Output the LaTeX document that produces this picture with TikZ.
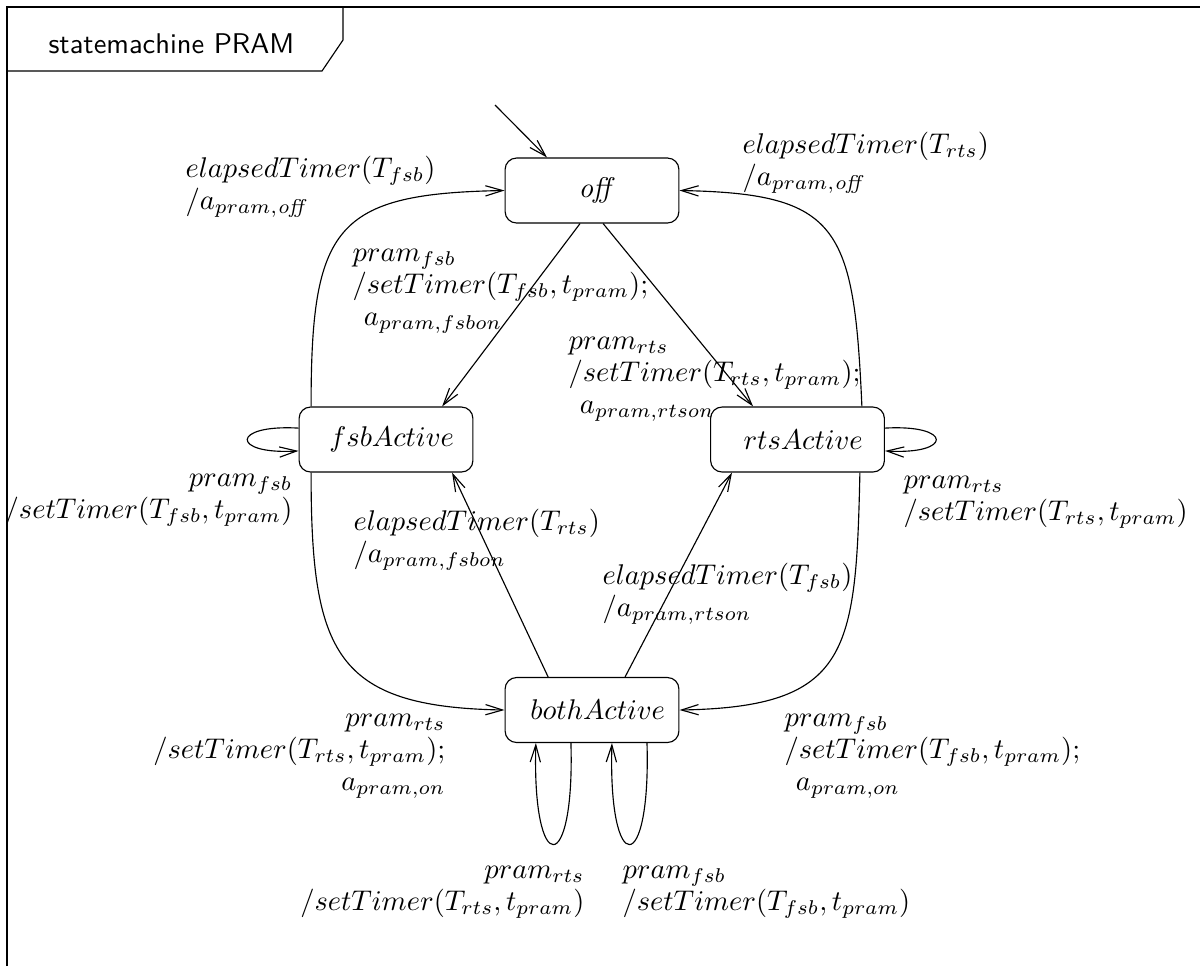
\documentclass[tikz,border=0pt]{standalone}
\usepackage{xcolor}
\usepackage{tikz}
\usetikzlibrary{arrows.meta}

\begin{document}
\begin{tikzpicture}[x=0.351pt, y=-0.351pt,
    >={Straight Barb[length=6pt,width=3.6pt]},
    state/.style={draw, rounded corners=4pt, minimum width=61pt, minimum height=22.8pt, inner sep=0pt,
      execute at begin node={\hspace*{4pt}}},
    trans/.style={->},
    lbl/.style={inner sep=0pt, align=left, anchor=base west, font=\fontsize{10pt}{11.2pt}\selectfont},
    lblr/.style={lbl, align=right, anchor=base east}]
         \useasboundingbox (0,0) rectangle (1200,966);
         \draw (7,966) to (7,7) to (1200,7);
         \draw (7,71) to (322,71) to (343,40) to (343,7);
         \node[anchor=base west, inner sep=0pt] (Title) at (48,53) {\sffamily statemachine PRAM};
         \node[state] (Off) at (592,190.5) {$\mathit{off}$};
         \node[state] (Fsb) at (386,439.5) {$fsbActive$};
         \node[state] (Rts) at (797.5,439.5) {$rtsActive$};
         \node[state] (Both) at (592,710) {$bothActive$};
         \coordinate (Init) at (495,105);
         \draw[trans] (Init) to ([xshift=-15.8pt]Off.north);
         \draw[trans] ([xshift=-4.2pt]Off.south) to ([xshift=19.7pt]Fsb.north);
         \draw[trans] ([xshift=3.9pt]Off.south) to ([xshift=-15.6pt]Rts.north);
         \draw[trans] ([xshift=-15.4pt]Both.north) to ([xshift=23.2pt]Fsb.south);
         \draw[trans] ([xshift=11.6pt]Both.north) to ([xshift=-23pt]Rts.south);
         \draw[trans] ([xshift=-26.3pt]Fsb.north) .. controls +(0,-180) and +(-170,3) .. (Off.west);
         \draw[trans] ([xshift=22.6pt]Rts.north) .. controls +(-8,-180) and +(160,3) .. (Off.east);
         \draw[trans] ([xshift=-26.3pt]Fsb.south) .. controls +(0,180) and +(-170,-3) .. (Both.west);
         \draw[trans] ([xshift=21.9pt]Rts.south) .. controls +(-4,180) and +(170,-3) .. (Both.east);
         \draw[trans] ([yshift=4pt]Fsb.west) .. controls +(-68,-4) and +(-68,4) .. ([yshift=-4pt]Fsb.west);
         \draw[trans] ([yshift=4pt]Rts.east) .. controls +(68,-4) and +(68,4) .. ([yshift=-4pt]Rts.east);
         \draw[trans] ([xshift=-7.4pt]Both.south) .. controls +(4,135) and +(-4,135) .. ([xshift=-19.7pt]Both.south);
         \draw[trans] ([xshift=19.3pt]Both.south) .. controls +(4,135) and +(-4,135) .. ([xshift=7pt]Both.south);
         \node[lbl] (FsbOff) at (185,209) {$elapsedTimer(T_{fsb})$\\$/a_{pram,\mathit{off}}$};
         \node[lbl] (RtsOff) at (742,185) {$elapsedTimer(T_{rts})$\\$/a_{pram,\mathit{off}}$};
         \node[lbl] (OffFsb) at (352,325) {$pram_{fsb}$\\$/setTimer(T_{fsb}, t_{pram});$\\\hspace*{4pt}$a_{pram,fsbon}$};
         \node[lbl] (OffRts) at (568,413) {$pram_{rts}$\\$/setTimer(T_{rts}, t_{pram});$\\\hspace*{4pt}$a_{pram,rtson}$};
         \node[lbl] (BothFsb) at (353,562) {$elapsedTimer(T_{rts})$\\$/a_{pram,fsbon}$};
         \node[lbl] (BothRts) at (602,616) {$elapsedTimer(T_{fsb})$\\$/a_{pram,rtson}$};
         \node[lblr] (FsbFsb) at (293,518) {$pram_{fsb}$\\$/setTimer(T_{fsb}, t_{pram})$};
         \node[lbl] (RtsRts) at (903,520) {$pram_{rts}$\\$/setTimer(T_{rts}, t_{pram})$};
         \node[lblr] (FsbBoth) at (446,790) {$pram_{rts}$\\$/setTimer(T_{rts}, t_{pram});$\\$a_{pram,on}$};
         \node[lbl] (RtsBoth) at (784,790) {$pram_{fsb}$\\$/setTimer(T_{fsb}, t_{pram});$\\\hspace*{4pt}$a_{pram,on}$};
         \node[lblr] (BothRtsLoop) at (585,910) {$pram_{rts}$\\$/setTimer(T_{rts}, t_{pram})$};
         \node[lbl] (BothFsbLoop) at (622,910) {$pram_{fsb}$\\$/setTimer(T_{fsb}, t_{pram})$};
      \end{tikzpicture}
\end{document}
